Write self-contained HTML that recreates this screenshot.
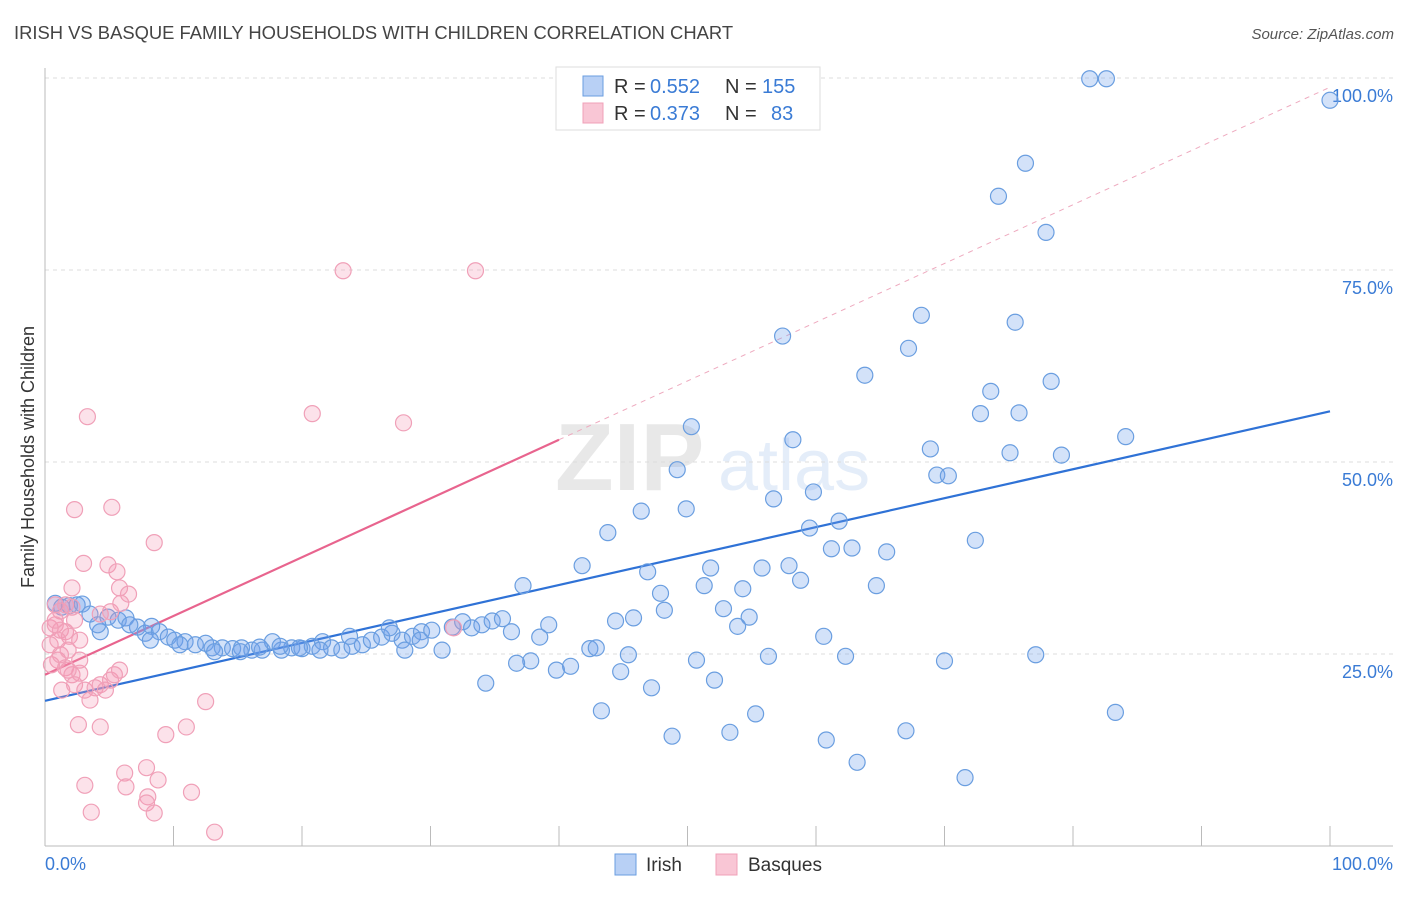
<!DOCTYPE html>
<html><head><meta charset="utf-8"><style>
body{margin:0;background:#fff;font-family:"Liberation Sans",sans-serif}
svg text{font-family:"Liberation Sans",sans-serif}
</style></head><body>
<svg id="chart" width="1406" height="892" viewBox="0 0 1406 892" xmlns="http://www.w3.org/2000/svg">
<text x="14" y="39" font-size="18.4" fill="#444">IRISH VS BASQUE FAMILY HOUSEHOLDS WITH CHILDREN CORRELATION CHART</text>
<text x="1394" y="39" font-size="15" fill="#555" text-anchor="end" font-style="italic">Source: ZipAtlas.com</text>
<g opacity="0.13">
<text x="555" y="490" font-size="96" font-family="Liberation Serif" fill="#555" font-weight="bold">ZIP</text>
<text x="718" y="490" font-size="72" fill="#3a7bd5">atlas</text>
</g>
<g id="grid"></g>
<g id="axes"></g>
<g id="lines"></g>
<g id="pts"></g>
<text transform="translate(34,457) rotate(-90)" font-size="18" fill="#333" text-anchor="middle">Family Households with Children</text>
<g>
<rect x="556" y="67" width="264" height="63" fill="#fff" stroke="#ddd"/>
<rect x="583" y="76" width="20" height="20" fill="#b8d0f5" stroke="#6a9ee0"/>
<rect x="583" y="103" width="20" height="20" fill="#f9c6d5" stroke="#f0a0b8"/>
<text x="614" y="93" font-size="20" fill="#333">R =</text>
<text x="650" y="93" font-size="20" fill="#3a7bd5">0.552</text>
<text x="725" y="93" font-size="20" fill="#333">N =</text>
<text x="762" y="93" font-size="20" fill="#3a7bd5">155</text>
<text x="614" y="120" font-size="20" fill="#333">R =</text>
<text x="650" y="120" font-size="20" fill="#3a7bd5">0.373</text>
<text x="725" y="120" font-size="20" fill="#333">N =</text>
<text x="771" y="120" font-size="20" fill="#3a7bd5">83</text>
</g>
<g><rect x="615" y="854" width="21" height="21" fill="#b8d0f5" stroke="#6a9ee0"/><text x="646" y="871" font-size="19" fill="#333">Irish</text></g>
<g><rect x="716" y="854" width="21" height="21" fill="#f9c6d5" stroke="#f0a0b8"/><text x="748" y="871" font-size="19" fill="#333">Basques</text></g>
</svg>
<script>
const irishX=[81.3,82.6,100,76.3,74.2,77.9,57.4,68.2,67.2,75.5,63.8,78.3,73.6,72.8,75.8,50.3,58.2,84.1,68.9,75.1,79.1,49.2,69.4,70.3,59.8,56.7,49.9,46.4,61.8,59.5,43.8,72.4,61.2,62.8,65.5,41.8,51.8,55.8,57.9,46.9,37.2,64.7,58.8,51.3,54.3,47.9,52.8,48.2,54.8,44.4,45.8,53.9,39.2,60.6,38.5,42.4,42.9,45.4,62.3,70.0,77.1,56.3,50.7,37.8,36.7,39.8,40.9,44.8,52.1,34.3,47.2,43.3,55.3,53.3,48.8,67.0,60.8,63.2,71.6,83.3,
0.8,1.3,1.9,2.5,2.9,3.5,4.3,4.9,5.7,6.3,7.2,7.8,8.3,8.9,9.6,10.1,10.9,11.7,12.5,13.0,13.8,14.6,15.3,16.1,16.9,17.7,18.4,19.2,20.0,20.8,21.6,22.3,23.1,23.9,24.7,25.4,26.2,27.0,27.8,28.6,29.3,30.1,30.9,31.7,32.5,33.2,34.0,34.8,35.6,36.3,26.8,29.2,28.0,23.7,21.4,19.8,18.3,16.7,15.2,13.2,4.1,6.6,8.2,10.5];
const irishY=[99.9,99.9,97.1,88.9,84.6,79.9,66.4,69.1,64.8,68.2,61.3,60.5,59.2,56.3,56.4,54.6,52.9,53.3,51.7,51.2,50.9,49.0,48.3,48.2,46.1,45.2,43.9,43.6,42.3,41.4,40.8,39.8,38.7,38.8,38.3,36.5,36.2,36.2,36.5,35.7,33.9,33.9,34.6,33.9,33.5,32.9,30.9,30.7,29.8,29.3,29.7,28.6,28.8,27.3,27.2,25.7,25.8,24.9,24.7,24.1,24.9,24.7,24.2,24.1,23.8,22.9,23.4,22.7,21.6,21.2,20.6,17.6,17.2,14.8,14.3,15.0,13.8,10.9,8.9,17.4,
31.6,31.1,31.3,31.4,31.5,30.2,27.9,29.8,29.4,29.7,28.5,27.7,28.6,27.9,27.2,26.8,26.6,26.2,26.4,25.8,25.8,25.7,25.8,25.5,25.5,26.6,25.5,25.8,25.7,26.0,26.6,25.8,25.5,26.0,26.2,26.8,27.2,27.7,26.8,27.3,27.9,28.1,25.5,28.5,29.2,28.4,28.8,29.3,29.6,27.9,28.4,26.8,25.5,27.3,25.5,25.8,26.0,25.9,25.3,25.3,28.8,28.8,26.8,26.2];
const basqueX=[0.8,1.2,1.6,2.1,0.4,0.8,1.2,1.6,1.9,2.3,2.7,0.4,1.0,1.6,2.1,2.7,1.3,2.3,3.1,3.9,4.3,4.7,5.1,5.4,5.8,0.5,1.8,2.3,3.3,5.2,3.0,4.9,5.6,2.1,5.8,6.5,4.3,5.1,5.9,8.5,23.2,33.5,20.8,27.9,31.8,3.5,2.6,4.3,11.0,12.5,9.4,3.1,6.2,7.9,8.8,6.3,8.0,7.9,11.4,3.6,8.5,13.2,0.8,1.0,1.2,1.8,2.7];
const basqueY=[31.4,30.6,31.4,31.1,28.4,28.8,28.1,27.9,27.3,29.4,26.8,26.2,24.2,23.2,22.3,22.5,20.3,21.0,20.3,20.6,21.0,20.3,21.6,22.3,22.9,23.6,22.9,43.8,55.9,44.1,36.8,36.6,35.7,33.6,33.6,32.8,30.2,30.5,31.6,39.5,74.9,74.9,56.3,55.1,28.4,19.0,15.8,15.5,15.5,18.8,14.5,7.9,9.5,10.2,8.6,7.7,6.4,5.6,7.0,4.4,4.3,1.8,29.4,26.8,24.9,25.5,24.2];
const irishFit=[18.9,56.6];   // y at x=0, x=100
const basqueFit=[22.3,0.765]; // intercept, slope
const yTicks=[25,50,75,100];
const xTicks=[0,10,20,30,40,50,60,70,80,90,100];
const NS="http://www.w3.org/2000/svg";
const X0=45,X1=1330,Y0=846,Y100=78;
const sx=v=>X0+(X1-X0)*v/100;
const sy=v=>Y0-(Y0-Y100)*v/100;
function mk(parent,tag,attrs){const e=document.createElementNS(NS,tag);for(const k in attrs)e.setAttribute(k,attrs[k]);document.getElementById(parent).appendChild(e);return e;}
yTicks.forEach(t=>{
  const l=mk('grid','line',{x1:X0,x2:1393,y1:sy(t),y2:sy(t),stroke:'#ddd','stroke-dasharray':'4,4'});
  
  
  const tx=mk('grid','text',{x:1393,y:sy(t)+24,'font-size':18,fill:'#3a7bd5','text-anchor':'end'});
  tx.textContent=t.toFixed(1)+'%';
  
  
});
const ya=mk('axes','line',{x1:X0,x2:X0,y1:68,y2:Y0,stroke:'#bbb'});


const xa=mk('axes','line',{x1:X0,x2:1393,y1:Y0,y2:Y0,stroke:'#bbb'});


xTicks.forEach(t=>{
  const l=mk('axes','line',{x1:sx(t),x2:sx(t),y1:826,y2:Y0,stroke:'#bbb'});
  
  
});
[[0,'0.0%','start',45],[100,'100.0%','end',1393]].forEach(d=>{
  const tx=mk('axes','text',{x:d[3],y:870,'font-size':18,fill:'#3a7bd5','text-anchor':d[2]});
  tx.textContent=d[1];
  
  
});
irishX.forEach((x,i)=>{
  const c=mk('pts','circle',{cx:sx(x),cy:sy(irishY[i]),r:8,fill:'rgba(110,160,235,0.3)',stroke:'#6a9ee0','stroke-width':1.2});
  
  
});
basqueX.forEach((x,i)=>{
  const c=mk('pts','circle',{cx:sx(x),cy:sy(basqueY[i]),r:8,fill:'rgba(245,150,180,0.28)',stroke:'#f0a0b8','stroke-width':1.2});
  
  
});
const bl=mk('lines','line',{x1:sx(0),y1:sy(irishFit[0]),x2:sx(100),y2:sy(irishFit[1]),stroke:'#2f72d6','stroke-width':2.2});


const pb=x=>basqueFit[0]+basqueFit[1]*x;
const pl=mk('lines','line',{x1:sx(0),y1:sy(pb(0)),x2:sx(40),y2:sy(pb(40)),stroke:'#e8648e','stroke-width':2.2});


const pd=mk('lines','line',{x1:sx(40),y1:sy(pb(40)),x2:sx(100),y2:sy(pb(100)),stroke:'#eeaabf','stroke-width':1,'stroke-dasharray':'5,5'});


</script>
</body></html>
